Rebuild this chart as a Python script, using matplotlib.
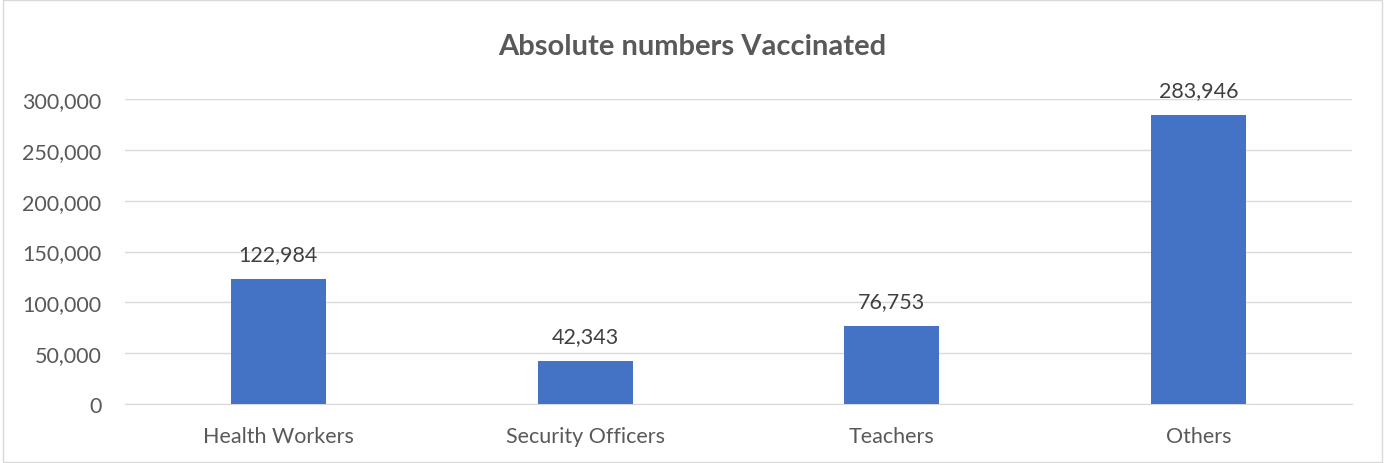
import matplotlib.pyplot as plt
from matplotlib.patches import Rectangle

categories = ['Health Workers', 'Security Officers', 'Teachers', 'Others']
values = [122984, 42343, 76753, 283946]
yticks = [0, 50000, 100000, 150000, 200000, 250000, 300000]

plt.rcParams['font.family'] = ['Lato', 'DejaVu Sans']
grey = '#595959'

fig = plt.figure(figsize=(13.85, 4.64), dpi=100)
ax = fig.add_axes([125 / 1385, 1 - 405 / 464, (1352 - 125) / 1385, 305 / 464])

x = range(len(categories))
bars = ax.bar(x, values, width=0.31, color='#4472C4', zorder=3)
for xi, v in zip(x, values):
    ax.text(xi, v + 15000, f'{v:,}', ha='center', va='bottom', fontsize=15.5, color='#404040')

ax.set_xlim(-0.5, 3.5)
ax.set_ylim(0, 300000)
ax.set_yticks(yticks)
ax.set_yticklabels([f'{t:,}' for t in yticks], fontsize=15.5, color=grey)
ax.set_xticks(list(x))
ax.set_xticklabels(categories, fontsize=15.5, color=grey)
ax.tick_params(length=0, pad=17)
ax.tick_params(axis='x', pad=16)
ax.grid(axis='y', color='#D9D9D9', lw=1, zorder=0)
for s in ['top', 'right', 'left']:
    ax.spines[s].set_visible(False)
ax.spines['bottom'].set_color('#D9D9D9')

fig.text(0.5, 1 - 47 / 464, 'Absolute numbers Vaccinated', ha='center', va='center',
         fontsize=21, fontweight='bold', color=grey)
fig.patches.append(Rectangle((0.002, 0.003), 0.996, 0.994, transform=fig.transFigure,
                             fill=False, edgecolor='#D9D9D9', lw=1))

fig.savefig('out.png', dpi=100)
